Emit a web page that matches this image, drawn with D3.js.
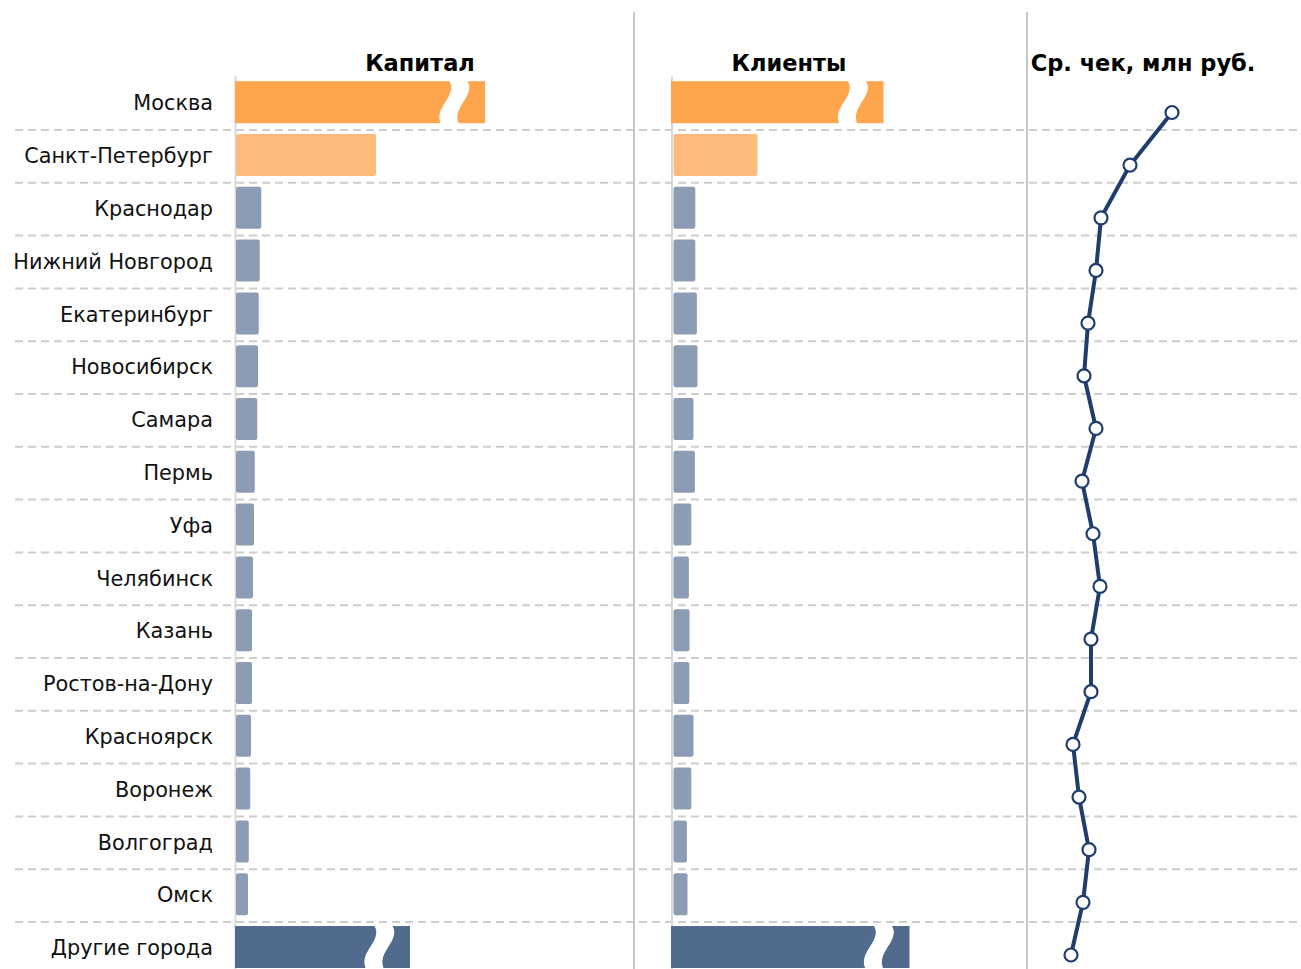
<!DOCTYPE html>
<html>
<head>
<meta charset="utf-8">
<script src="https://cdn.jsdelivr.net/npm/d3@7"></script>
<style>
  html, body { margin: 0; padding: 0; background: #fff; }
  svg { display: block; }
  text { font-family: "DejaVu Sans", sans-serif; }
</style>
</head>
<body>
<svg id="chart" width="1301" height="969"></svg>
<script>
// Cities, top to bottom
const cities = [
  "Москва", "Санкт-Петербург", "Краснодар", "Нижний Новгород", "Екатеринбург",
  "Новосибирск", "Самара", "Пермь", "Уфа", "Челябинск", "Казань",
  "Ростов-на-Дону", "Красноярск", "Воронеж", "Волгоград", "Омск", "Другие города"
];

// Capital (drawn length; Moscow and "other cities" are shown with a scale break)
const capital = [99.6, 56, 10.1, 9.5, 9.1, 8.8, 8.5, 7.5, 7.2, 6.8, 6.4, 6.4, 6.0, 5.7, 5.1, 4.8, 69.6];

// Clients (drawn length; Moscow and "other cities" are shown with a scale break)
const clients = [105, 42, 10.9, 10.9, 11.7, 12, 10, 10.7, 8.9, 7.7, 8, 7.9, 10, 8.9, 6.7, 7, 118];

// Average deal size, mln rub.
const avgCheck = [14.5, 10.3, 7.4, 6.9, 6.1, 5.7, 6.9, 5.5, 6.6, 7.3, 6.4, 6.4, 4.6, 5.2, 6.2, 5.6, 4.4];

// Bars drawn with a break
const brokenBars = ["Москва", "Другие города"];

const headers = ["Капитал", "Клиенты", "Ср. чек, млн руб."];

const colorFor = c => c === "Москва" ? "#FFA54D"
  : c === "Санкт-Петербург" ? "#FFBB7B"
  : c === "Другие города" ? "#516B8F"
  : "#8C9CB4";

const svg = d3.select("#chart");
const W = 1301, H = 969;

// Row bands
const y = d3.scaleBand().domain(cities).range([77.2, 77.2 + 52.8 * cities.length]).padding(0);
const barInset = 4, barH = 42;

// Bar scales
const xCap = d3.scaleLinear().domain([0, 100]).range([236, 486]);
const xCli = d3.scaleLinear().domain([0, 100]).range([673.5, 873.5]);

// Line panel scales
const xAvg = d3.scaleLinear().domain([0, 20]).range([1027, 1227]);
const yPt = d3.scalePoint().domain(cities).range([112.5, 955]);

// Dashed separators between rows
const gridG = svg.append("g");
cities.slice(1).forEach(c => {
  gridG.append("line")
    .attr("x1", 15).attr("x2", W)
    .attr("y1", y(c)).attr("y2", y(c))
    .attr("stroke", "#CDCDCD").attr("stroke-width", 2)
    .attr("stroke-dasharray", "8,5");
});

// Panel separators
[634, 1027].forEach(x => {
  svg.append("line")
    .attr("x1", x).attr("x2", x).attr("y1", 12).attr("y2", H)
    .attr("stroke", "#B4B4B4").attr("stroke-width", 1.5);
});

// Bar axes (baseline)
[235.5, 672].forEach(x => {
  svg.append("line")
    .attr("x1", x).attr("x2", x).attr("y1", 76).attr("y2", H)
    .attr("stroke", "#D9D9D9").attr("stroke-width", 2);
});

// Break mark: white wavy band across a bar
function breakPath(cx, top, bottom) {
  const h = bottom - top, w = 18;
  const l0 = cx - 4, l1 = cx - 12;
  return `M${l0},${top - 1}`
    + ` C${l0 + 10},${top + h * 0.35} ${l1 - 8},${top + h * 0.6} ${l1},${bottom + 1}`
    + ` L${l1 + w},${bottom + 1}`
    + ` C${l1 + w - 8},${top + h * 0.6} ${l0 + w + 10},${top + h * 0.35} ${l0 + w},${top - 1}`
    + " Z";
}

function drawBars(values, sc, baseX) {
  const g = svg.append("g");
  const data = cities.map((c, i) => ({ c, v: values[i] }));
  const x0 = d => brokenBars.includes(d.c) ? baseX - 1 : sc(0);
  g.selectAll("rect").data(data).join("rect")
    .attr("x", x0)
    .attr("y", d => y(d.c) + barInset)
    .attr("width", d => sc(d.v) - x0(d))
    .attr("height", barH)
    .attr("rx", d => brokenBars.includes(d.c) ? 0 : 2)
    .attr("fill", d => colorFor(d.c));
  g.selectAll("path.brk").data(data.filter(d => brokenBars.includes(d.c))).join("path")
    .attr("class", "brk")
    .attr("d", d => breakPath(sc(d.v) - 32, y(d.c) + barInset, y(d.c) + barInset + barH))
    .attr("fill", "#fff");
}

drawBars(capital, xCap, 236);
drawBars(clients, xCli, 672);

// City labels
svg.append("g").selectAll("text").data(cities).join("text")
  .attr("x", 213)
  .attr("y", c => y(c) + y.bandwidth() / 2)
  .attr("dy", "0.33em")
  .attr("text-anchor", "end")
  .attr("font-size", 20.8)
  .attr("fill", "#111")
  .text(c => c);

// Column headers
const headerX = [420, 789, 1143];
svg.append("g").selectAll("text").data(headers).join("text")
  .attr("x", (d, i) => headerX[i])
  .attr("y", 71)
  .attr("text-anchor", "middle")
  .attr("font-size", 22.5)
  .attr("font-weight", "bold")
  .attr("fill", "#000")
  .text(d => d);

// Average deal line
const pts = cities.map((c, i) => ({ c, v: avgCheck[i] }));
svg.append("path")
  .datum(pts)
  .attr("fill", "none")
  .attr("stroke", "#1F3D6D")
  .attr("stroke-width", 4)
  .attr("stroke-linejoin", "round")
  .attr("d", d3.line().x(d => xAvg(d.v)).y(d => yPt(d.c)));
svg.append("g").selectAll("circle").data(pts).join("circle")
  .attr("cx", d => xAvg(d.v))
  .attr("cy", d => yPt(d.c))
  .attr("r", 6.5)
  .attr("fill", "#fff")
  .attr("stroke", "#1F3D6D")
  .attr("stroke-width", 2.2);
</script>
</body>
</html>
